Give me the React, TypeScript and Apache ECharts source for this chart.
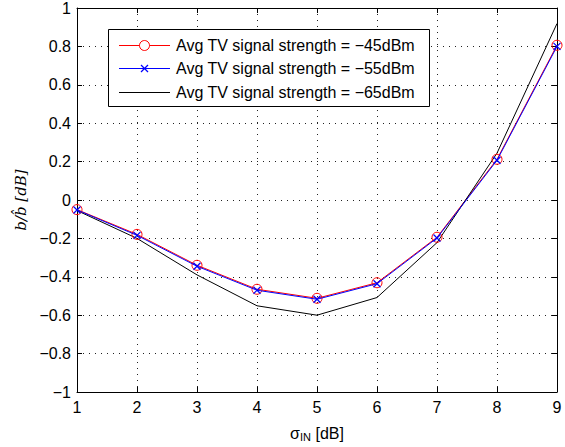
import React, { useEffect, useRef } from "react";
import * as echarts from "echarts";

const xValues = [1, 2, 3, 4, 5, 6, 7, 8, 9];
const seriesNames = [
  "Avg TV signal strength = \u221245dBm",
  "Avg TV signal strength = \u221255dBm",
  "Avg TV signal strength = \u221265dBm",
];
const red45 = [-0.05, -0.179, -0.34, -0.465, -0.512, -0.431, -0.194, 0.212, 0.806];
const blue55 = [-0.052, -0.184, -0.345, -0.47, -0.517, -0.436, -0.198, 0.207, 0.8];
const black65 = [-0.055, -0.2, -0.39, -0.551, -0.6, -0.508, -0.222, 0.244, 0.919];

const FONT = "'Liberation Sans', Arial, Helvetica, sans-serif";
const RED = "#ff0000";
const BLUE = "#0000ff";
const BLACK = "#000000";

const fmt = (v: number) => {
  const r = Math.round(v * 10) / 10;
  if (r === 0) return "0";
  return String(r).replace("-", "\u2212");
};

const xMark = "path://M0,0L10,10M10,0L0,10";

function legendGraphic() {
  const boxX = 108.5;
  const boxY = 29.5;
  const rowY0 = 45.5;
  const rowStep = 23.4;
  const lx0 = 119;
  const lx1 = 170;
  const mx = (lx0 + lx1) / 2;
  const colors = [RED, BLUE, BLACK];
  const children: any[] = [
    {
      type: "rect",
      z: 100,
      shape: { x: boxX, y: boxY, width: 321, height: 77 },
      style: { fill: "#fff", stroke: "#000", lineWidth: 1 },
    },
  ];
  seriesNames.forEach((name, i) => {
    const y = Math.round(rowY0 + i * rowStep - 0.5) + 0.5;
    children.push({
      type: "line",
      z: 101,
      shape: { x1: lx0, y1: y, x2: lx1, y2: y },
      style: { stroke: colors[i], lineWidth: 1, lineDash: null },
    });
    if (i === 0) {
      children.push({
        type: "circle",
        z: 102,
        shape: { cx: mx, cy: y, r: 5 },
        style: { fill: "#fff", stroke: RED, lineWidth: 1 },
      });
    } else if (i === 1) {
      children.push({
        type: "line",
        z: 102,
        shape: { x1: mx - 3.5, y1: y - 3.5, x2: mx + 3.5, y2: y + 3.5 },
        style: { stroke: BLUE, lineWidth: 1.2 },
      });
      children.push({
        type: "line",
        z: 102,
        shape: { x1: mx - 3.5, y1: y + 3.5, x2: mx + 3.5, y2: y - 3.5 },
        style: { stroke: BLUE, lineWidth: 1.2 },
      });
    }
    children.push({
      type: "text",
      z: 102,
      x: 176,
      y: y,
      style: {
        text: name,
        fontFamily: FONT,
        fontSize: 16,
        fill: "#000",
        textVerticalAlign: "middle",
        verticalAlign: "middle",
        align: "left",
      },
    });
  });
  return [{ type: "group", z: 100, children }];
}

export default function App() {
  const ref = useRef<HTMLDivElement>(null);
  useEffect(() => {
    document.body.style.margin = "0";
    const chart = echarts.init(ref.current!, null, { renderer: "svg" });
    const pair = (arr: number[]) => xValues.map((x, i) => [x, arr[i]]);
    const tick = { inside: true, length: 5, lineStyle: { color: "#000", width: 1 } };
    const grid = {
      show: true,
      lineStyle: { color: "#222", type: [1, 5] as any, width: 1 },
    };
    const axisLine = { show: true, onZero: false, lineStyle: { color: "#000", width: 1 } };
    chart.setOption({
      animation: false,
      backgroundColor: "#fff",
      grid: { left: 77, right: 8, top: 5, bottom: 53, containLabel: false },
      graphic: legendGraphic(),
      xAxis: [
        {
          type: "value",
          min: 1,
          max: 9,
          interval: 1,
          position: "bottom",
          axisLine,
          axisTick: tick,
          axisLabel: { color: "#000", fontFamily: FONT, fontSize: 16, margin: 7 },
          splitLine: grid,
          name: "{s|\u03c3}{sub|IN}{s| [dB]}",
          nameLocation: "middle",
          nameGap: 32,
          nameTextStyle: {
            rich: {
              s: { fontFamily: FONT, fontSize: 16, color: "#000" },
              sub: { fontFamily: FONT, fontSize: 11, color: "#000", verticalAlign: "bottom", padding: [7, 0, 0, 0] },
            },
          },
        },
        {
          type: "value",
          min: 1,
          max: 9,
          interval: 1,
          position: "top",
          axisLine,
          axisTick: tick,
          axisLabel: { show: false },
          splitLine: { show: false },
        },
      ],
      yAxis: [
        {
          type: "value",
          min: -1,
          max: 1,
          interval: 0.2,
          position: "left",
          axisLine,
          axisTick: tick,
          axisLabel: { color: "#000", fontFamily: FONT, fontSize: 16, margin: 6, formatter: fmt },
          splitLine: grid,
          name: "b/b\u0302 [dB]",
          nameLocation: "middle",
          nameGap: 48,
          nameTextStyle: {
            fontFamily: "'DejaVu Serif', 'Liberation Serif', serif",
            fontStyle: "italic",
            fontSize: 15,
            color: "#000",
          },
        },
        {
          type: "value",
          min: -1,
          max: 1,
          interval: 0.2,
          position: "right",
          axisLine,
          axisTick: tick,
          axisLabel: { show: false },
          splitLine: { show: false },
        },
      ],
      series: [
        {
          name: seriesNames[0],
          type: "line",
          data: pair(red45),
          symbol: "circle",
          symbolSize: 10,
          showAllSymbol: true,
          lineStyle: { color: RED, width: 1 },
          itemStyle: { color: "rgba(0,0,0,0)", borderColor: RED, borderWidth: 1 },
          color: RED,
          z: 2,
        },
        {
          name: seriesNames[1],
          type: "line",
          data: pair(blue55),
          symbol: xMark,
          symbolSize: 7,
          showAllSymbol: true,
          lineStyle: { color: BLUE, width: 1 },
          itemStyle: { color: "rgba(0,0,0,0)", borderColor: BLUE, borderWidth: 1.2 },
          color: BLUE,
          z: 3,
        },
        {
          name: seriesNames[2],
          type: "line",
          data: pair(black65),
          symbol: "none",
          lineStyle: { color: BLACK, width: 1 },
          itemStyle: { color: BLACK },
          color: BLACK,
          z: 2,
        },
      ],
    });
    return () => chart.dispose();
  }, []);
  return <div ref={ref} style={{ width: 565, height: 447 }} />;
}
